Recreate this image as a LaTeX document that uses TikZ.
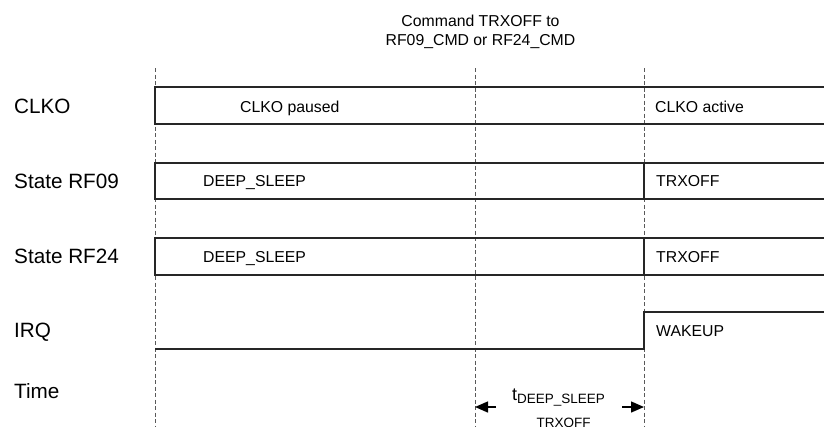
\documentclass[tikz,border=0pt]{standalone}
\usepackage{fontspec}
\setmainfont{Liberation Sans}
\usetikzlibrary{arrows.meta,positioning}

\begin{document}
\begin{tikzpicture}[
    x=1pt, y=-1pt,
    signal/.style={
        line width=1.4pt,
        black!85
    },
    marker/.style={
        dash pattern=on 4pt off 2.5pt,
        line width=0.8pt,
        black!65
    },
    rowlabel/.style={
        anchor=base west,
        inner sep=0pt,
        font=\fontsize{20.7}{24}\selectfont
    },
    statetext/.style={
        anchor=base west,
        inner sep=0pt,
        font=\fontsize{15.8}{19}\selectfont
    },
    timearrow/.style={
        -{Triangle[length=13pt,width=11pt]},
        line width=1.4pt
    }
]

% Page frame
\useasboundingbox (0,0) rectangle (824,426);
\clip (0,0) rectangle (824,426);

% Command note
\node[statetext, anchor=north, align=center] (cmd) at (480.5,15)
    {Command TRXOFF to\\RF09\_CMD or RF24\_CMD};

% Time markers
\foreach \xm in {155,475,644}
    \draw[marker] (\xm,68) -- (\xm,426);

% Row labels
\node[rowlabel] (clko) at (14,113) {CLKO};
\node[rowlabel] (rf09) at (14,188.5) {State RF09};
\node[rowlabel] (rf24) at (14,263.5) {State RF24};
\node[rowlabel] (irq) at (14,337.5) {IRQ};
\node[rowlabel] (time) at (14,398.5) {Time};

% CLKO
\draw[signal] (824,87) -- (155,87) -- (155,124) -- (824,124);
\node[statetext] (paused) at (240,112) {CLKO paused};
\node[statetext] (active) at (655,112) {CLKO active};

% State RF09
\draw[signal] (824,163) -- (155,163) -- (155,199) -- (824,199);
\draw[signal] (644,163) -- (644,199);
\node[statetext] (sleep09) at (203,186) {DEEP\_SLEEP};
\node[statetext] (trx09) at (656,186) {TRXOFF};

% State RF24
\draw[signal] (824,238) -- (155,238) -- (155,275) -- (824,275);
\draw[signal] (644,238) -- (644,275);
\node[statetext] (sleep24) at (203,262) {DEEP\_SLEEP};
\node[statetext] (trx24) at (656,262) {TRXOFF};

% IRQ
\draw[signal] (155,349) -- (644,349) -- (644,312) -- (824,312);
\node[statetext] (wakeup) at (656,336) {WAKEUP};

% Timing
\coordinate (tstart) at (475,407);
\coordinate (tend) at (644,407);
\draw[timearrow] ([xshift=21pt]tstart) -- (tstart);
\draw[timearrow] ([xshift=-22pt]tend) -- (tend);
\node[anchor=base west, inner sep=0pt, font=\fontsize{18}{20}\selectfont] (tdeep) at (512,400) {t};
\node[anchor=base west, inner sep=0pt, font=\fontsize{13.5}{15}\selectfont] (tsub) at (517,403) {DEEP\_SLEEP};
\node[anchor=base, inner sep=0pt, font=\fontsize{13.5}{15}\selectfont] (tsub2) at (563.5,427.5) {TRXOFF};

\end{tikzpicture}
\end{document}
